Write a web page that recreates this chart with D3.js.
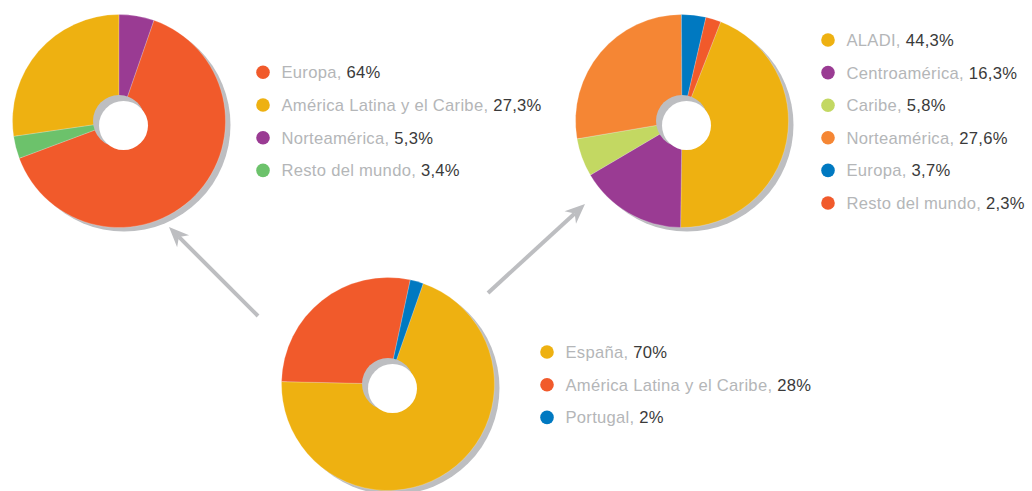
<!DOCTYPE html>
<html>
<head>
<meta charset="utf-8">
<script src="https://cdn.jsdelivr.net/npm/d3@7"></script>
<style>
  html, body { margin: 0; padding: 0; background: #fff; }
  svg { display: block; }
  .lbl { font-family: "Liberation Sans", Arial, sans-serif; font-size: 16.6px; letter-spacing: 0.28px; }
</style>
</head>
<body>
<svg id="chart" width="1032" height="491"></svg>
<script>
// Destinos de la inversión (gráfico superior izquierdo)
const catsA = ["Europa", "América Latina y el Caribe", "Norteamérica", "Resto del mundo"];
const valsA = [64, 27.3, 5.3, 3.4];
const textA = ["64%", "27,3%", "5,3%", "3,4%"];
const colorsA = ["#f15a2b", "#eeb111", "#9a3b93", "#6cc26b"];
const sliceOrderA = [0, 3, 1, 2];

// Desglose de América Latina y el Caribe (gráfico superior derecho)
const catsB = ["ALADI", "Centroamérica", "Caribe", "Norteamérica", "Europa", "Resto del mundo"];
const valsB = [44.3, 16.3, 5.8, 27.6, 3.7, 2.3];
const textB = ["44,3%", "16,3%", "5,8%", "27,6%", "3,7%", "2,3%"];
const colorsB = ["#eeb111", "#9a3b93", "#c3d862", "#f58634", "#0079c1", "#f15a2b"];
const sliceOrderB = [0, 1, 2, 3, 4, 5];

// Origen (gráfico inferior)
const catsC = ["España", "América Latina y el Caribe", "Portugal"];
const valsC = [70, 28, 2];
const textC = ["70%", "28%", "2%"];
const colorsC = ["#eeb111", "#f15a2b", "#0079c1"];
const sliceOrderC = [0, 1, 2];

const svg = d3.select("#chart");
const deg = Math.PI / 180;
const shadowColor = "#bdbec1";

function drawPie(cfg) {
  const g = svg.append("g").attr("transform", `translate(${cfg.cx},${cfg.cy})`);
  const data = cfg.order.map(i => ({ cat: cfg.cats[i], value: cfg.vals[i], color: cfg.colors[i] }));
  const pie = d3.pie().value(d => d.value).sort(null)
    .startAngle(cfg.start * deg).endAngle(cfg.start * deg + 2 * Math.PI);
  const arc = d3.arc().innerRadius(0).outerRadius(cfg.r);

  // drop shadow behind the disc
  g.append("circle").attr("cx", 5).attr("cy", 4).attr("r", cfg.r).attr("fill", shadowColor);

  g.selectAll("path.slice").data(pie(data)).join("path")
    .attr("class", "slice")
    .attr("d", arc)
    .attr("fill", d => d.data.color)
    .attr("stroke", "#ffffff")
    .attr("stroke-opacity", 0.35)
    .attr("stroke-width", 0.6);

  // centre hole with inner shadow
  g.append("circle").attr("r", 26).attr("fill", shadowColor);
  g.append("circle").attr("cx", 4.5).attr("cy", 4.5).attr("r", 24.5).attr("fill", "#fff");
}

function drawLegend(cfg) {
  const g = svg.append("g").attr("transform", `translate(${cfg.x},${cfg.y})`);
  const rows = g.selectAll("g.row").data(cfg.cats).join("g")
    .attr("class", "row")
    .attr("transform", (d, i) => `translate(0,${i * cfg.step})`);
  rows.append("circle").attr("r", 6.8).attr("fill", (d, i) => cfg.colors[i]);
  const t = rows.append("text").attr("class", "lbl").attr("x", 18.5).attr("y", 6);
  t.append("tspan").attr("fill", "#b4b6b8").text(d => d + ", ");
  t.append("tspan").attr("fill", "#3a3a3a").text((d, i) => cfg.texts[i]);
}

function drawArrow(x1, y1, x2, y2) {
  const a = Math.atan2(y2 - y1, x2 - x1);
  const headLen = 20, headW = 8.5, notch = 6;
  const bx = x2 - headLen * Math.cos(a), by = y2 - headLen * Math.sin(a);
  const nx = x2 - (headLen - notch) * Math.cos(a), ny = y2 - (headLen - notch) * Math.sin(a);
  const px = -Math.sin(a), py = Math.cos(a);
  svg.append("line")
    .attr("x1", x1).attr("y1", y1).attr("x2", nx).attr("y2", ny)
    .attr("stroke", shadowColor).attr("stroke-width", 4);
  svg.append("path")
    .attr("d", d3.line()([
      [x2, y2],
      [bx + px * headW, by + py * headW],
      [nx, ny],
      [bx - px * headW, by - py * headW]
    ]) + "Z")
    .attr("fill", shadowColor);
}

drawPie({ cx: 119, cy: 121, r: 106.5, cats: catsA, vals: valsA, colors: colorsA, order: sliceOrderA, start: 19.1 });
drawPie({ cx: 682, cy: 121, r: 106.5, cats: catsB, vals: valsB, colors: colorsB, order: sliceOrderB, start: 21.3 });
drawPie({ cx: 388, cy: 384, r: 106.5, cats: catsC, vals: valsC, colors: colorsC, order: sliceOrderC, start: 19.3 });

drawArrow(258, 316, 169, 227);
drawArrow(488, 293, 585, 204);

drawLegend({ x: 263, y: 72.3, step: 32.7, cats: catsA, texts: textA, colors: colorsA });
drawLegend({ x: 828, y: 40, step: 32.6, cats: catsB, texts: textB, colors: colorsB });
drawLegend({ x: 547, y: 352, step: 32.7, cats: catsC, texts: textC, colors: colorsC });
</script>
</body>
</html>
